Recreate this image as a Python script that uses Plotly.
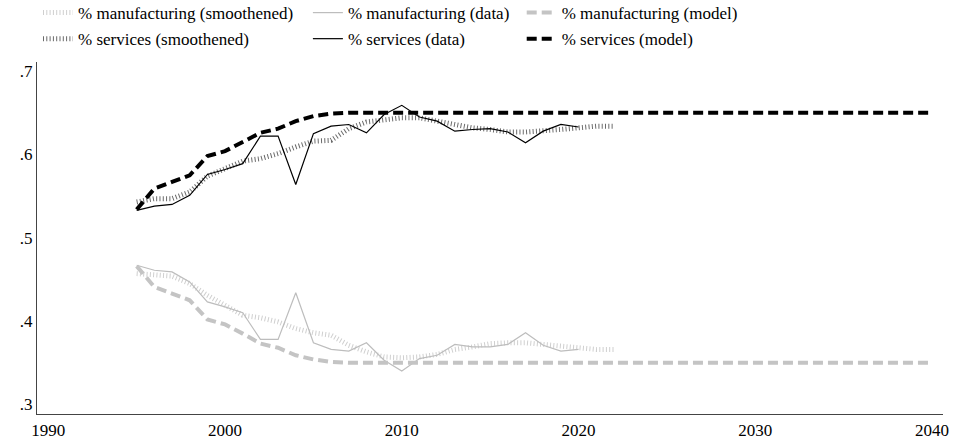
import plotly.graph_objects as go

years_model = list(range(1995, 2041))
years_data = list(range(1995, 2021))
years_smooth = list(range(1995, 2023))

services_model_head = [0.534, 0.559, 0.567, 0.575, 0.598, 0.604, 0.615, 0.626, 0.631, 0.640, 0.646, 0.649]
services_model = services_model_head + [0.650] * (len(years_model) - len(services_model_head))
manuf_model_head = [0.466, 0.441, 0.433, 0.425, 0.402, 0.396, 0.385, 0.373, 0.368, 0.359, 0.354, 0.351]
manuf_model = manuf_model_head + [0.350] * (len(years_model) - len(manuf_model_head))

services_data = [0.533, 0.538, 0.540, 0.551, 0.576, 0.582, 0.589, 0.622, 0.622, 0.564,
                 0.625, 0.634, 0.636, 0.626, 0.648, 0.659, 0.645, 0.640, 0.628, 0.630,
                 0.631, 0.627, 0.614, 0.628, 0.636, 0.633]
manuf_data = [0.467, 0.461, 0.459, 0.447, 0.423, 0.417, 0.410, 0.378, 0.378, 0.434,
              0.374, 0.366, 0.364, 0.374, 0.353, 0.340, 0.355, 0.359, 0.372, 0.369,
              0.369, 0.372, 0.386, 0.371, 0.364, 0.366]

services_smooth = [0.543, 0.547, 0.547, 0.555, 0.574, 0.583, 0.592, 0.595, 0.601, 0.609,
                   0.616, 0.617, 0.631, 0.639, 0.642, 0.644, 0.644, 0.640, 0.635, 0.632,
                   0.630, 0.627, 0.627, 0.628, 0.630, 0.632, 0.634, 0.634]
manuf_smooth = [0.457, 0.456, 0.454, 0.445, 0.431, 0.419, 0.407, 0.404, 0.399, 0.391,
                0.386, 0.383, 0.371, 0.363, 0.357, 0.356, 0.357, 0.360, 0.366, 0.369,
                0.373, 0.374, 0.374, 0.372, 0.370, 0.368, 0.366, 0.366]

x_ticks = [1990, 2000, 2010, 2020, 2030, 2040]
y_ticks = [0.3, 0.4, 0.5, 0.6, 0.7]
y_ticktext = [".3", ".4", ".5", ".6", ".7"]

FONT = "Liberation Serif"
FS = 17

fig = go.Figure()

traces = [
    ("% manufacturing (smoothened)", years_smooth, manuf_smooth, dict(color="#cfcfcf", width=5, dash="1px,2.3px"), "legend"),
    ("% services (smoothened)", years_smooth, services_smooth, dict(color="#6a6a6a", width=5, dash="1px,2.3px"), "legend2"),
    ("% manufacturing (data)", years_data, manuf_data, dict(color="#bdbdbd", width=1.2), "legend3"),
    ("% services (data)", years_data, services_data, dict(color="#000000", width=1.2), "legend4"),
    ("% manufacturing (model)", years_model, manuf_model, dict(color="#c4c4c4", width=4, dash="10px,5px"), "legend5"),
    ("% services (model)", years_model, services_model, dict(color="#000000", width=4, dash="10px,5px"), "legend6"),
]
for name, xs, ys, line, lg in traces:
    fig.add_trace(go.Scatter(x=xs, y=ys, mode="lines", name=name, line=line, legend=lg))

col_x = [0.0011, 0.299, 0.535]
row_y = [1.139, 1.065]
leg_pos = {
    "legend": (col_x[0], row_y[0]),
    "legend2": (col_x[0], row_y[1]),
    "legend3": (col_x[1], row_y[0]),
    "legend4": (col_x[1], row_y[1]),
    "legend5": (col_x[2], row_y[0]),
    "legend6": (col_x[2], row_y[1]),
}
leg_layout = {}
for k, (lx, ly) in leg_pos.items():
    leg_layout[k] = dict(x=lx, y=ly, xanchor="left", yanchor="middle",
                         bgcolor="rgba(0,0,0,0)", font=dict(family=FONT, size=FS, color="black"),
                         itemwidth=30)

fig.update_layout(
    width=954, height=440,
    margin=dict(l=37, r=11, t=62, b=26, autoexpand=False),
    paper_bgcolor="white", plot_bgcolor="white",
    font=dict(family=FONT, size=FS, color="black"),
    showlegend=True,
    **leg_layout,
    xaxis=dict(range=[1989.36, 2040.62], tickvals=x_ticks, showgrid=False, zeroline=False,
               showline=True, linecolor="#444444", linewidth=1.3, ticks="",
               tickfont=dict(family=FONT, size=FS, color="black")),
    yaxis=dict(range=[0.2885, 0.711], tickvals=y_ticks, ticktext=y_ticktext, showgrid=False,
               zeroline=False, showline=True, linecolor="#444444", linewidth=1.3, ticks="",
               tickfont=dict(family=FONT, size=FS, color="black")),
)

fig.write_html("out.html")
